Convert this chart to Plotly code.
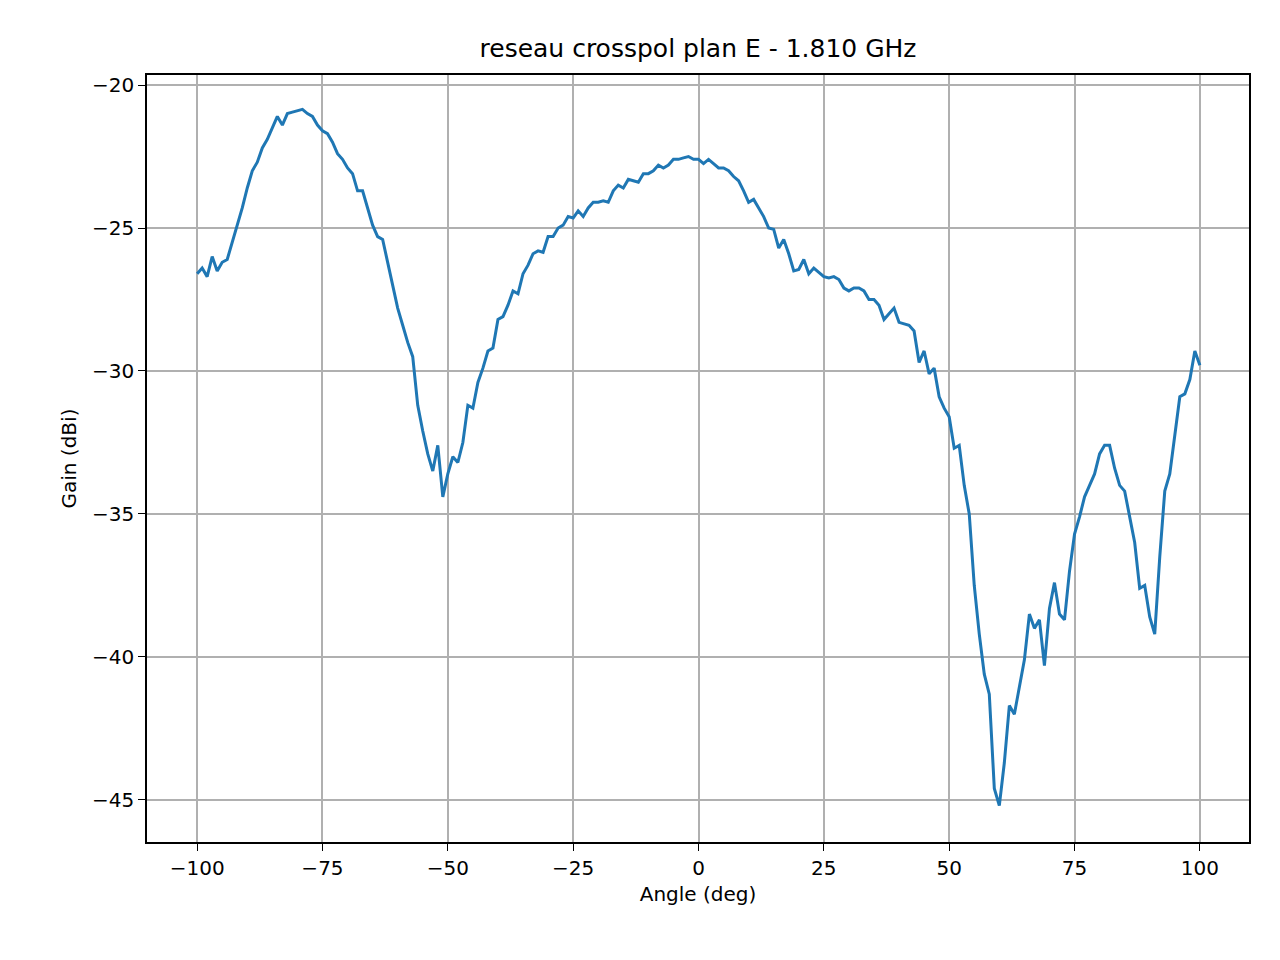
import plotly.graph_objects as go

angles = list(range(-100, 101))
gain = [
-26.6,-26.4,-26.7,-26.0,-26.5,-26.2,-26.1,-25.5,-24.9,-24.3,
-23.6,-23.0,-22.7,-22.2,-21.9,-21.5,-21.1,-21.4,-21.0,-20.95,
-20.9,-20.85,-21.0,-21.1,-21.4,-21.6,-21.7,-22.0,-22.4,-22.6,
-22.9,-23.1,-23.7,-23.7,-24.3,-24.9,-25.3,-25.4,-26.2,-27.0,
-27.8,-28.4,-29.0,-29.5,-31.2,-32.1,-32.9,-33.5,-32.6,-34.4,
-33.6,-33.0,-33.2,-32.5,-31.2,-31.3,-30.4,-29.9,-29.3,-29.2,
-28.2,-28.1,-27.7,-27.2,-27.3,-26.6,-26.3,-25.9,-25.8,-25.85,
-25.3,-25.3,-25.0,-24.9,-24.6,-24.65,-24.4,-24.6,-24.3,-24.1,
-24.1,-24.05,-24.1,-23.7,-23.5,-23.6,-23.3,-23.35,-23.4,-23.1,
-23.1,-23.0,-22.8,-22.9,-22.8,-22.6,-22.6,-22.55,-22.5,-22.6,
-22.6,-22.75,-22.6,-22.75,-22.9,-22.9,-23.0,-23.2,-23.35,-23.7,
-24.1,-24.0,-24.3,-24.6,-25.0,-25.05,-25.7,-25.4,-25.9,-26.5,
-26.45,-26.1,-26.6,-26.4,-26.55,-26.7,-26.75,-26.7,-26.8,-27.1,
-27.2,-27.1,-27.1,-27.2,-27.5,-27.5,-27.7,-28.2,-28.0,-27.8,
-28.3,-28.35,-28.4,-28.6,-29.7,-29.3,-30.1,-29.9,-30.9,-31.3,
-31.6,-32.7,-32.6,-34.0,-35.0,-37.5,-39.2,-40.6,-41.3,-44.6,
-45.2,-43.7,-41.7,-42.0,-41.0,-40.1,-38.5,-39.0,-38.7,-40.3,
-38.3,-37.4,-38.5,-38.7,-37.0,-35.7,-35.1,-34.4,-34.0,-33.6,
-32.9,-32.6,-32.6,-33.4,-34.0,-34.2,-35.1,-36.0,-37.6,-37.5,
-38.6,-39.2,-36.5,-34.2,-33.6,-32.3,-30.9,-30.8,-30.3,-29.3,
-29.8]

x_ticks = [-100, -75, -50, -25, 0, 25, 50, 75, 100]
y_ticks = [-45, -40, -35, -30, -25, -20]

fig = go.Figure(go.Scatter(x=angles, y=gain, mode="lines",
                           line=dict(color="#1f77b4", width=3)))
axis = dict(showline=True, linecolor="black", linewidth=1.5, mirror=True,
            ticks="outside", ticklen=7, tickcolor="black", showgrid=True,
            gridcolor="#b0b0b0", gridwidth=1.5, zeroline=False,
            tickfont=dict(size=20, color="black"))
fig.update_xaxes(range=[-110, 109.8], tickvals=x_ticks,
                 ticktext=[str(v).replace("-", "\u2212") for v in x_ticks],
                 title=dict(text="Angle (deg)", font=dict(size=20, color="black"), standoff=8), **axis)
fig.update_yaxes(range=[-46.47, -19.65], tickvals=y_ticks,
                 ticktext=[str(v).replace("-", "\u2212") for v in y_ticks],
                 title=dict(text="Gain (dBi)", font=dict(size=20, color="black"), standoff=10), **axis)
fig.update_layout(width=1280, height=960, plot_bgcolor="white", paper_bgcolor="white",
                  font=dict(family="DejaVu Sans", color="black"),
                  margin=dict(l=139, r=39, t=67, b=126), showlegend=False,
                  title=dict(text="reseau crosspol plan E - 1.810 GHz", x=0.5, xanchor="center",
                             xref="paper",
                             y=1 - 40/960, yanchor="middle", font=dict(size=25, color="black")))
fig.write_html("out.html")
